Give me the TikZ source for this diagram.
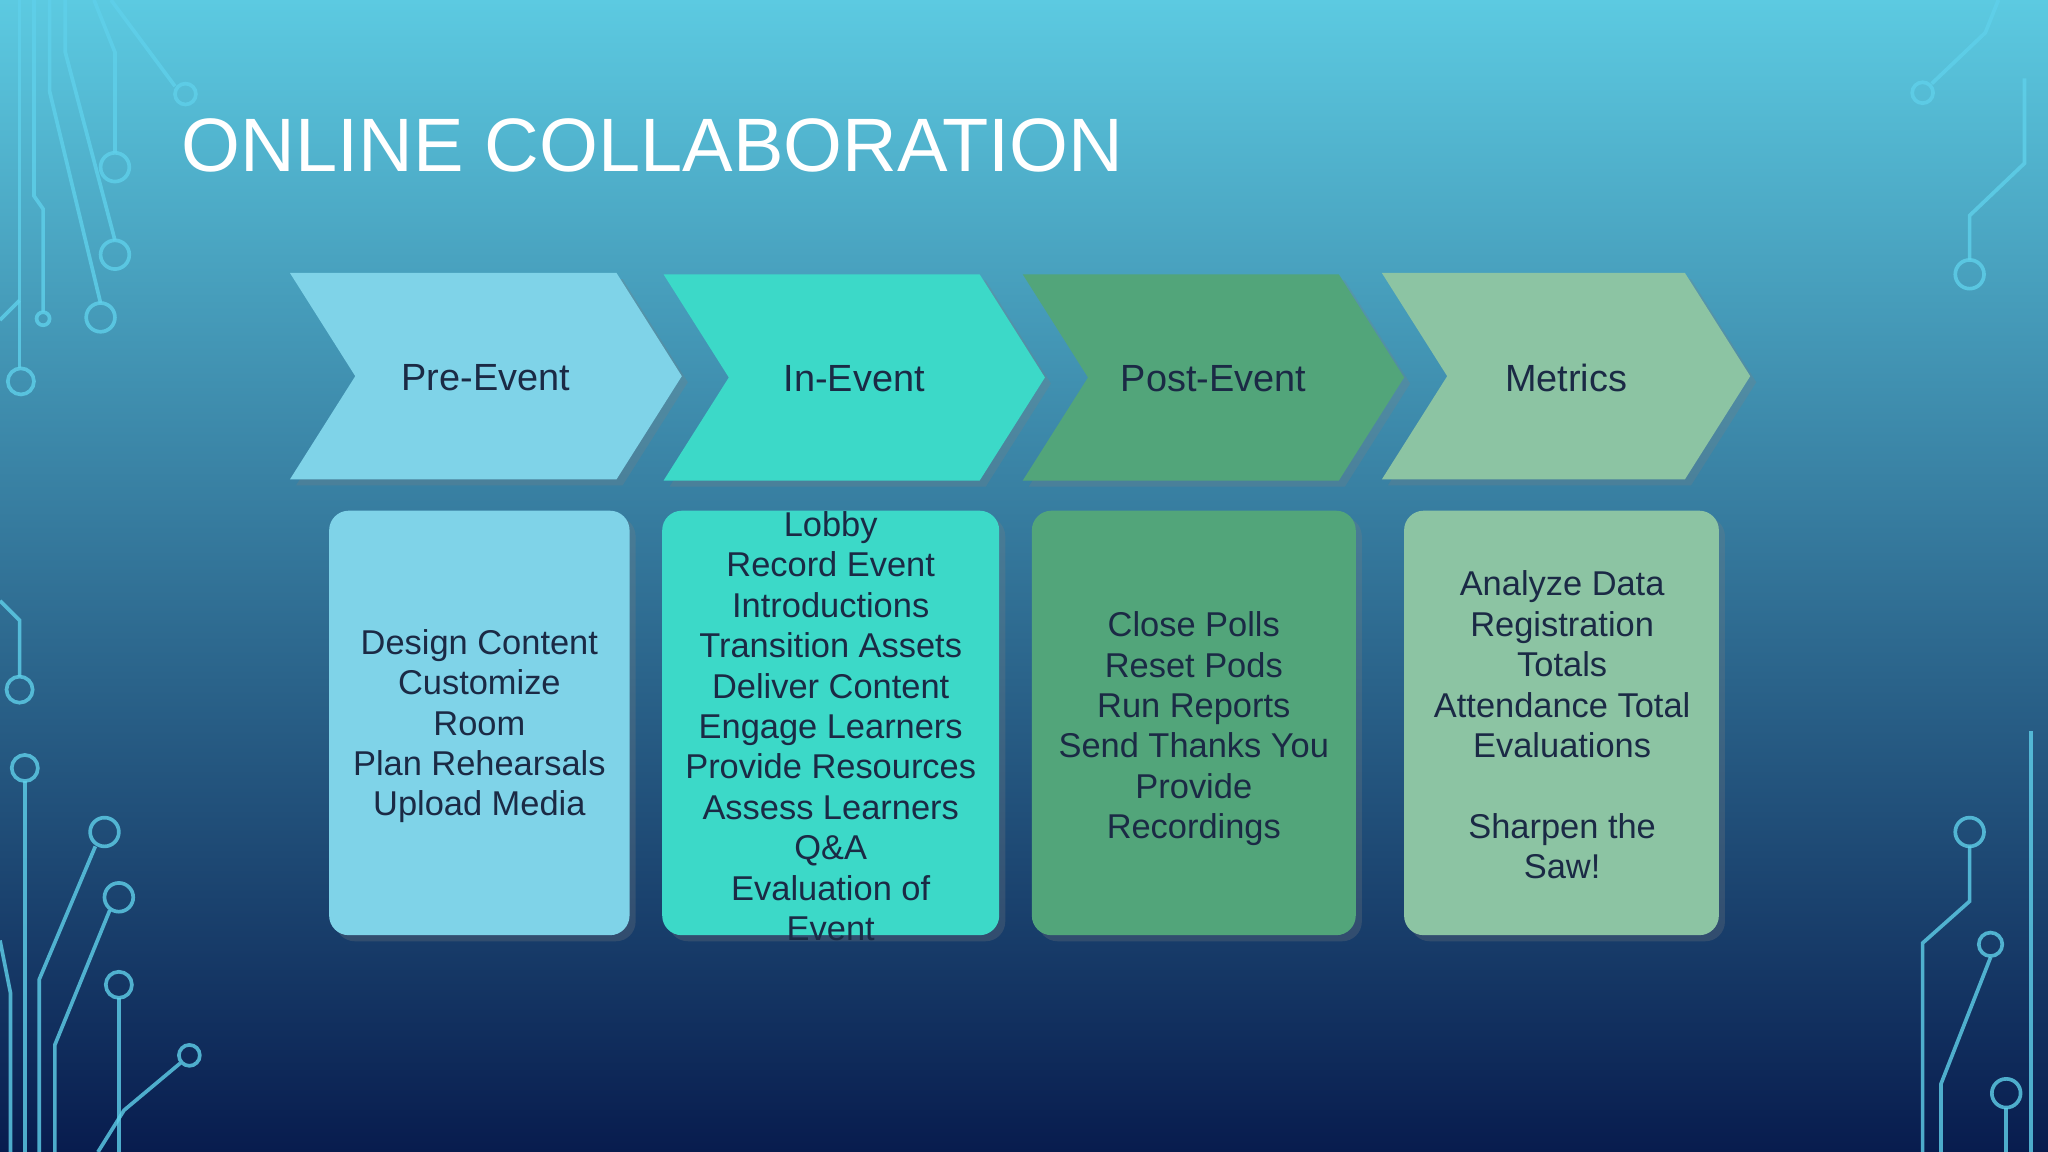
\documentclass[tikz,border=0pt]{standalone}
\usepackage{fontspec}
\setmainfont{Liberation Sans}
\usetikzlibrary{shadows}
\definecolor{ink}{HTML}{1B2A45}
\definecolor{cpre}{HTML}{7FD3E8}
\definecolor{cin}{HTML}{3CD9C8}
\definecolor{cpost}{HTML}{52A57A}
\definecolor{cmet}{HTML}{8CC4A3}
\definecolor{circ}{HTML}{5FD0EA}
\tikzset{
  chev/.style={draw=none, drop shadow={opacity=0.25}},
  chevtext/.style={font=\fontsize{16.5}{20}\selectfont, text=ink},
  card/.style={rounded corners=0.3cm, drop shadow={opacity=0.25}},
  cardtext/.style={font=\fontsize{15}{17.6}\selectfont, text=ink, align=center},
  wire/.style={draw=circ, line width=1.6pt, opacity=0.8},
  pad/.style={draw=circ, line width=1.6pt, fill=none, opacity=0.8}
}
\begin{document}
\begin{tikzpicture}[x=0.02cm,y=-0.02cm]
\shade[top color={rgb,255:red,92;green,202;blue,225}, middle color={rgb,255:red,24;green,130;blue,190}, bottom color={rgb,255:red,8;green,28;blue,78}] (0,0) rectangle (1568,882);
\useasboundingbox (0,0) rectangle (1568,882);
% circuit decorations left top
\draw[wire] (15,0) -- (15,282);
\draw[wire] (26,0) -- (26,150) -- (33,160) -- (33,239);
\draw[wire] (38,0) -- (38,70) -- (77,232);
\draw[wire] (50,0) -- (50,40) -- (88,184);
\draw[wire] (72,0) -- (88,40) -- (88,117);
\draw[wire] (85,0) -- (134,66);
\draw[wire] (0,245) -- (15,230);
\draw[pad] (16,292) circle (10); \draw[pad] (33,244) circle (5);
\draw[pad] (77,243) circle (11); \draw[pad] (88,195) circle (11);
\draw[pad] (88,128) circle (11); \draw[pad] (142,72) circle (8);
% bottom left
\draw[wire] (0,460) -- (15,475) -- (15,518);
\draw[wire] (19,598) -- (19,882);
\draw[wire] (0,720) -- (8,760) -- (8,882);
\draw[wire] (30,882) -- (30,750) -- (73,648);
\draw[wire] (42,882) -- (42,800) -- (84,697);
\draw[wire] (91,764) -- (91,882);
\draw[wire] (75,882) -- (95,850) -- (138,814);
\draw[pad] (15,528) circle (10); \draw[pad] (19,588) circle (10);
\draw[pad] (80,637) circle (11); \draw[pad] (91,687) circle (11);
\draw[pad] (91,754) circle (10); \draw[pad] (145,808) circle (8);
% right
\draw[wire] (1530,0) -- (1520,25) -- (1479,64);
\draw[wire] (1550,60) -- (1550,125) -- (1508,165) -- (1508,199);
\draw[pad] (1472,71) circle (8); \draw[pad] (1508,210) circle (11);
\draw[wire] (1508,648) -- (1508,690) -- (1472,722) -- (1472,882);
\draw[wire] (1524,733) -- (1486,830) -- (1486,882);
\draw[wire] (1536,848) -- (1536,882);
\draw[wire] (1555,560) -- (1555,882);
\draw[pad] (1508,637) circle (11); \draw[pad] (1524,723) circle (9);
\draw[pad] (1536,837) circle (11);
% title
\node[anchor=west, text=white, font=\fontsize{33}{36}\selectfont] (title) at (133,111) {ONLINE COLLABORATION};
% chevrons
\fill[cpre,chev] (222,209) -- (472,209) -- (522,288) -- (472,367) -- (222,367) -- (272,288) -- cycle;
\fill[cin,chev] (508,210) -- (750,210) -- (800,289) -- (750,368) -- (508,368) -- (558,289) -- cycle;
\fill[cpost,chev] (783,210) -- (1025,210) -- (1075,289) -- (1025,368) -- (783,368) -- (833,289) -- cycle;
\fill[cmet,chev] (1058,209) -- (1290,209) -- (1340,288) -- (1290,367) -- (1058,367) -- (1108,288) -- cycle;
\node[chevtext] (c1) at (372,289) {Pre-Event};
\node[chevtext] (c2) at (654,290) {In-Event};
\node[chevtext] (c3) at (929,290) {Post-Event};
\node[chevtext] (c4) at (1199,289) {Metrics};
% cards
\fill[cpre,card] (252,391) rectangle (482,716);
\fill[cin,card] (507,391) rectangle (765,716);
\fill[cpost,card] (790,391) rectangle (1038,716);
\fill[cmet,card] (1075,391) rectangle (1316,716);
\node[cardtext] (t1) at (367,556) {Design Content\\Customize\\Room\\Plan Rehearsals\\Upload Media};
\node[cardtext] (t2) at (636,556) {Lobby\\Record Event\\Introductions\\Transition Assets\\Deliver Content\\Engage Learners\\Provide Resources\\Assess Learners\\Q\&A\\Evaluation of\\Event};
\node[cardtext] (t3) at (914,558) {Close Polls\\Reset Pods\\Run Reports\\Send Thanks You\\Provide\\Recordings};
\node[cardtext] (t4) at (1196,555) {Analyze Data\\Registration\\Totals\\Attendance Total\\Evaluations\\[17.6pt]Sharpen the\\Saw!};
\end{tikzpicture}
\end{document}
